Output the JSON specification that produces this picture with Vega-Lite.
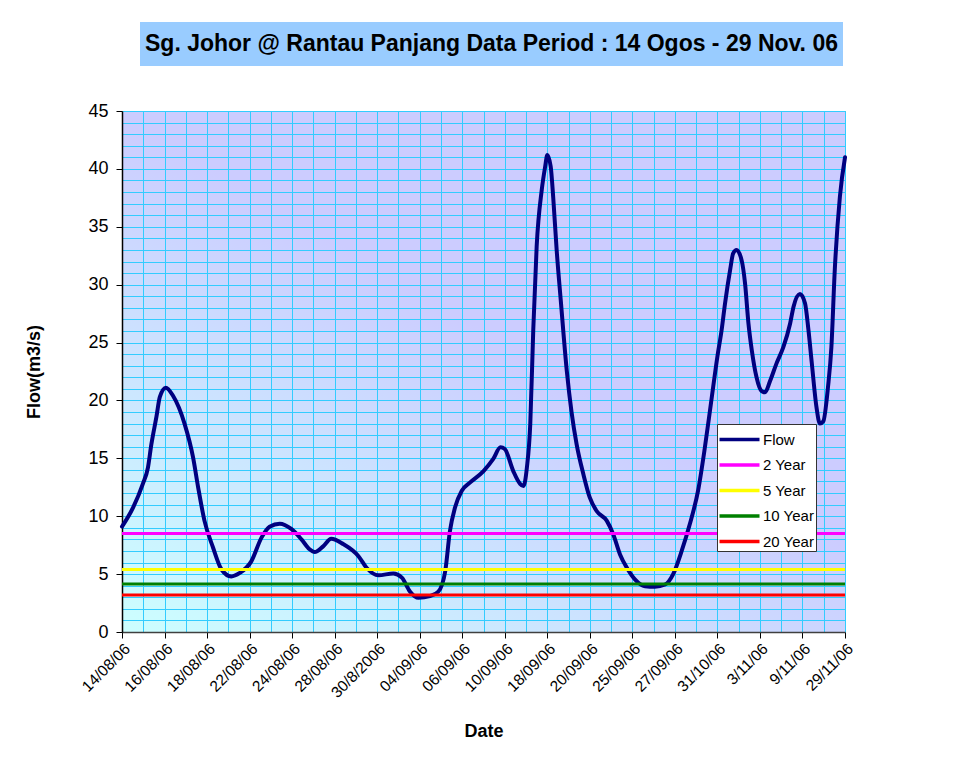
{
  "$schema": "https://vega.github.io/schema/vega-lite/v6.json",
  "background": "white",
  "padding": {"left": 25, "top": 22, "right": 20, "bottom": 12},
  "config": {"font": "Liberation Sans", "concat": {"spacing": 35}},
  "datasets": {
    "flow": [
      {"t": 0, "flow": 9.1}, {"t": 0.26, "flow": 10.75}, {"t": 0.49, "flow": 12.8}, {"t": 0.61, "flow": 14.2},
      {"t": 0.69, "flow": 16.2}, {"t": 0.81, "flow": 18.6}, {"t": 0.89, "flow": 20.3}, {"t": 1.03, "flow": 21.1},
      {"t": 1.2, "flow": 20.4}, {"t": 1.47, "flow": 18.0}, {"t": 1.67, "flow": 15.1}, {"t": 1.79, "flow": 12.5},
      {"t": 1.94, "flow": 9.6}, {"t": 2.14, "flow": 7.3}, {"t": 2.34, "flow": 5.4}, {"t": 2.57, "flow": 4.8},
      {"t": 2.77, "flow": 5.1}, {"t": 3.04, "flow": 6.1}, {"t": 3.28, "flow": 8.15}, {"t": 3.47, "flow": 9.1},
      {"t": 3.71, "flow": 9.35}, {"t": 3.98, "flow": 8.9}, {"t": 4.22, "flow": 8.0}, {"t": 4.41, "flow": 7.15},
      {"t": 4.53, "flow": 6.9}, {"t": 4.73, "flow": 7.4}, {"t": 4.92, "flow": 8.05}, {"t": 5.2, "flow": 7.6},
      {"t": 5.56, "flow": 6.55}, {"t": 5.75, "flow": 5.55}, {"t": 6.03, "flow": 4.9}, {"t": 6.38, "flow": 5.05},
      {"t": 6.58, "flow": 4.7}, {"t": 6.77, "flow": 3.5}, {"t": 6.97, "flow": 2.95}, {"t": 7.24, "flow": 3.1},
      {"t": 7.44, "flow": 3.5}, {"t": 7.6, "flow": 5.25}, {"t": 7.71, "flow": 8.7}, {"t": 7.83, "flow": 10.75},
      {"t": 7.99, "flow": 12.2}, {"t": 8.18, "flow": 12.9}, {"t": 8.5, "flow": 13.9}, {"t": 8.73, "flow": 14.95},
      {"t": 8.9, "flow": 15.95}, {"t": 9.0, "flow": 15.8}, {"t": 9.2, "flow": 13.9}, {"t": 9.36, "flow": 12.8},
      {"t": 9.44, "flow": 12.6}, {"t": 9.52, "flow": 14.2}, {"t": 9.6, "flow": 18.0}, {"t": 9.67, "flow": 26.1},
      {"t": 9.75, "flow": 33.3}, {"t": 9.87, "flow": 38.2}, {"t": 9.95, "flow": 40.2}, {"t": 10.0, "flow": 41.2},
      {"t": 10.08, "flow": 40.2}, {"t": 10.14, "flow": 37.5}, {"t": 10.22, "flow": 33.0}, {"t": 10.32, "flow": 28.5},
      {"t": 10.46, "flow": 22.5}, {"t": 10.57, "flow": 19.0}, {"t": 10.69, "flow": 16.2}, {"t": 10.85, "flow": 13.6},
      {"t": 11.0, "flow": 11.6}, {"t": 11.16, "flow": 10.45}, {"t": 11.4, "flow": 9.6}, {"t": 11.55, "flow": 8.45},
      {"t": 11.71, "flow": 6.7}, {"t": 11.87, "flow": 5.55}, {"t": 12.06, "flow": 4.55}, {"t": 12.3, "flow": 3.96},
      {"t": 12.53, "flow": 3.9}, {"t": 12.77, "flow": 4.1}, {"t": 12.96, "flow": 5.0}, {"t": 13.16, "flow": 7.0},
      {"t": 13.35, "flow": 9.3}, {"t": 13.55, "flow": 12.3}, {"t": 13.7, "flow": 15.8}, {"t": 13.85, "flow": 19.8},
      {"t": 14.0, "flow": 23.8}, {"t": 14.1, "flow": 26.1}, {"t": 14.18, "flow": 28.4}, {"t": 14.3, "flow": 31.3},
      {"t": 14.37, "flow": 32.7}, {"t": 14.45, "flow": 33.0}, {"t": 14.57, "flow": 32.1}, {"t": 14.65, "flow": 30.1},
      {"t": 14.73, "flow": 26.65}, {"t": 14.81, "flow": 24.3}, {"t": 14.92, "flow": 22.0}, {"t": 15.04, "flow": 20.8},
      {"t": 15.12, "flow": 20.7}, {"t": 15.24, "flow": 21.7}, {"t": 15.39, "flow": 23.2}, {"t": 15.55, "flow": 24.6},
      {"t": 15.71, "flow": 26.65}, {"t": 15.79, "flow": 28.1}, {"t": 15.94, "flow": 29.2}, {"t": 16.06, "flow": 28.4},
      {"t": 16.14, "flow": 26.1}, {"t": 16.22, "flow": 23.2}, {"t": 16.33, "flow": 19.4}, {"t": 16.41, "flow": 18.0},
      {"t": 16.49, "flow": 18.2}, {"t": 16.6, "flow": 21.15}, {"t": 16.68, "flow": 24.6}, {"t": 16.76, "flow": 31.3},
      {"t": 16.88, "flow": 37.6}, {"t": 17.0, "flow": 41.0}
    ],
    "levels": [
      {"series": "2 Year", "flow": 8.5},
      {"series": "5 Year", "flow": 5.4},
      {"series": "10 Year", "flow": 4.15},
      {"series": "20 Year", "flow": 3.2}
    ]
  },
  "vconcat": [
    {
      "spacing": 0,
      "hconcat": [
        {
          "width": 18,
          "height": 44,
          "view": {"stroke": null},
          "data": {"values": [{"blank": ""}]},
          "mark": {"type": "text"},
          "encoding": {"text": {"field": "blank"}}
        },
        {
          "width": 703,
          "height": 44,
          "view": {"fill": "#99CCFF", "stroke": null},
          "data": {"values": [{"title": "Sg. Johor @ Rantau Panjang Data Period : 14 Ogos - 29 Nov. 06"}]},
          "mark": {"type": "text", "font": "Liberation Sans", "fontWeight": "bold", "fontSize": 23, "color": "black"},
          "encoding": {"text": {"field": "title"}}
        }
      ]
    },
    {
      "width": 723,
      "height": 521,
      "view": {
        "stroke": "#808080",
        "fill": {
          "gradient": "linear",
          "x1": 0, "y1": 1, "x2": 0.49, "y2": 0.41,
          "stops": [{"offset": 0, "color": "#CCFFFF"}, {"offset": 1, "color": "#CCCCFF"}]
        }
      },
      "encoding": {
        "x": {
          "field": "t", "type": "quantitative",
          "scale": {"domain": [0, 17], "nice": false, "zero": false},
          "axis": {
            "title": "Date",
            "titleFontSize": 18, "titleFontWeight": "bold", "titleColor": "black", "titlePadding": 22,
            "values": [0,0.5,1,1.5,2,2.5,3,3.5,4,4.5,5,5.5,6,6.5,7,7.5,8,8.5,9,9.5,10,10.5,11,11.5,12,12.5,13,13.5,14,14.5,15,15.5,16,16.5,17],
            "labelExpr": "datum.value % 1 === 0 ? ['14/08/06','16/08/06','18/08/06','22/08/06','24/08/06','28/08/06','30/8/2006','04/09/06','06/09/06','10/09/06','18/09/06','20/09/06','25/09/06','27/09/06','31/10/06','3/11/06','9/11/06','29/11/06'][datum.value] : ''",
            "labelAngle": -45, "labelAlign": "right", "labelBaseline": "top",
            "labelFontSize": 15.5, "labelColor": "black", "labelPadding": 3,
            "labelOverlap": false, "labelFlush": false,
            "tickSize": 6, "tickColor": "black",
            "tickOpacity": {"condition": {"test": "datum.value % 1 === 0", "value": 1}, "value": 0},
            "domainColor": "#404040", "domainWidth": 1.5,
            "grid": true, "gridColor": "#33CCFF", "gridWidth": 1, "gridOpacity": 1
          }
        },
        "y": {
          "field": "flow", "type": "quantitative",
          "scale": {"domain": [0, 45], "nice": false},
          "axis": {
            "title": "Flow(m3/s)",
            "titleFontSize": 18, "titleFontWeight": "bold", "titleColor": "black", "titlePadding": 44,
            "values": [0,1,2,3,4,5,6,7,8,9,10,11,12,13,14,15,16,17,18,19,20,21,22,23,24,25,26,27,28,29,30,31,32,33,34,35,36,37,38,39,40,41,42,43,44,45],
            "labelExpr": "datum.value % 5 === 0 ? datum.label : ''",
            "labelFontSize": 18, "labelColor": "black", "labelPadding": 8,
            "tickSize": 6, "tickColor": "black",
            "tickOpacity": {"condition": {"test": "datum.value % 5 === 0", "value": 1}, "value": 0},
            "domainColor": "black", "domainWidth": 1.5,
            "grid": true, "gridColor": "#33CCFF", "gridWidth": 1, "gridOpacity": 1
          }
        }
      },
      "layer": [
        {
          "data": {"name": "flow"},
          "transform": [{"calculate": "'Flow'", "as": "series"}],
          "mark": {"type": "line", "interpolate": "monotone", "strokeWidth": 4, "strokeCap": "round", "strokeJoin": "round"},
          "encoding": {
            "color": {
              "field": "series", "type": "nominal",
              "scale": {"domain": ["Flow", "2 Year", "5 Year", "10 Year", "20 Year"], "range": ["#000080", "#FF00FF", "#FFFF00", "#008000", "#FF0000"]},
              "legend": {
                "title": null, "orient": "none", "legendX": 595, "legendY": 402,
                "fillColor": "white", "strokeColor": "#333333",
                "padding": 1, "symbolType": "M-1.6,0H1.6", "symbolSize": 625, "symbolStrokeWidth": 3.5,
                "symbolOffset": 7, "labelOffset": 9, "rowPadding": 2.5,
                "labelFontSize": 15, "labelColor": "black", "labelFont": "Liberation Sans"
              }
            }
          }
        },
        {
          "data": {"name": "levels"},
          "mark": {"type": "rule", "strokeWidth": 3},
          "encoding": {
            "x": null,
            "color": {"field": "series", "type": "nominal"}
          }
        }
      ]
    }
  ]
}
